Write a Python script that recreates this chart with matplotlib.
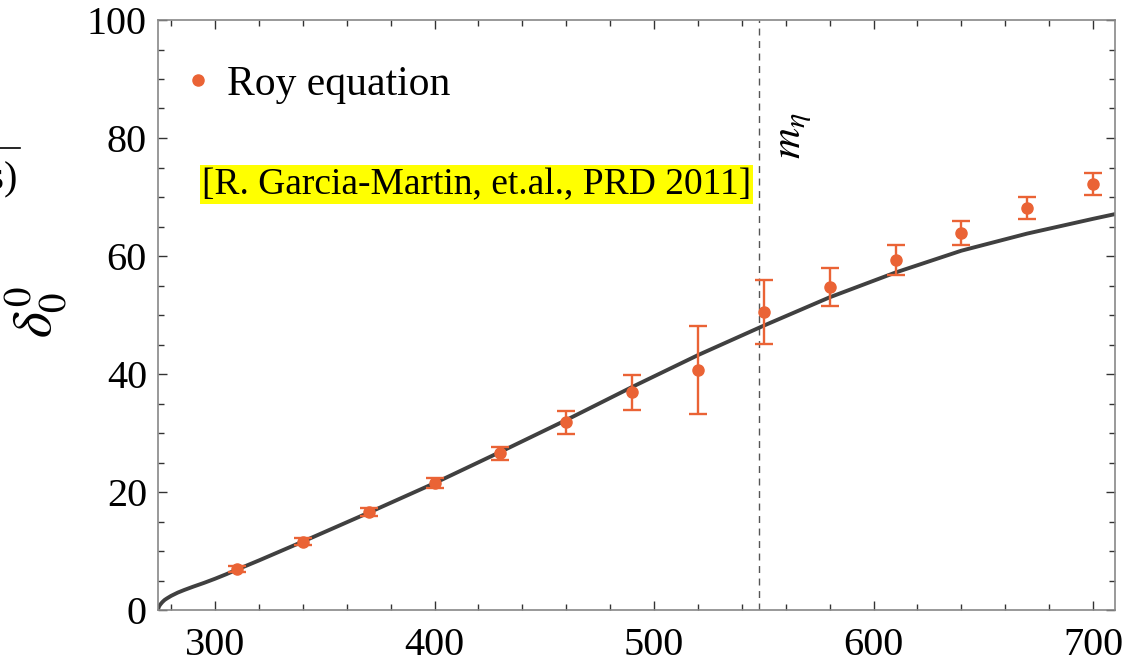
import matplotlib.pyplot as plt
from matplotlib.ticker import MultipleLocator

plt.rcParams['font.family'] = ['Liberation Serif', 'DejaVu Serif']
plt.rcParams['mathtext.fontset'] = 'stix'

# Roy equation phase shift points (MeV, degrees)
roy_E = [310, 340, 370, 400, 430, 460, 490, 520, 550, 580, 610, 640, 670, 700]
roy_delta = [7.0, 11.6, 16.6, 21.5, 26.6, 31.8, 36.9, 40.7, 50.5, 54.7, 59.3, 63.9, 68.1, 72.2]
roy_err = [0.5, 0.6, 0.7, 0.9, 1.1, 1.9, 3.0, 7.5, 5.4, 3.2, 2.5, 2.1, 1.9, 1.8]

# fitted curve
fit_E = [274, 274.3, 274.7, 275.2, 276, 277, 278, 280, 283, 286, 290, 295, 300,
         305, 310, 320, 330, 340, 370, 400, 430, 460, 490, 520, 550, 580, 610,
         640, 670, 700, 710]
fit_delta = [0.0, 0.45, 0.75, 1.0, 1.35, 1.7, 1.95, 2.4, 2.95, 3.4, 3.95, 4.6, 5.3,
             6.05, 6.85, 8.4, 10.0, 11.6, 16.5, 21.5, 26.8, 32.2, 37.8, 43.2, 48.2, 53.0, 57.2,
             60.9, 63.8, 66.3, 67.1]

m_eta = 547.86

orange = '#EA6335'

fig = plt.figure(figsize=(11.25, 6.64), dpi=100)
ax = fig.add_axes([158 / 1125, 54 / 664, (1115 - 158) / 1125, (610 - 20) / 664])

ax.plot(fit_E, fit_delta, color='#404040', lw=2.8, zorder=2)
ax.errorbar(roy_E, roy_delta, yerr=roy_err, fmt='none', ecolor=orange,
            elinewidth=1.7, capsize=6.3, capthick=1.7, zorder=3)
ax.plot(roy_E, roy_delta, 'o', color=orange, ms=8, label='Roy equation', zorder=4)

ax.axvline(m_eta, color='#555555', lw=1, dashes=(5, 4), zorder=1)
ax.text(564, 80.3, r'$m_\eta$', rotation=90, fontsize=31, ha='center', va='center')

ax.text(294, 72.1, '[R. Garcia-Martin, et.al., PRD 2011]', fontsize=27,
        ha='left', va='center',
        bbox=dict(facecolor='#FFFF00', edgecolor='none', pad=1.5))

ax.set_xlim(274, 710)
ax.set_ylim(0, 100)
ax.xaxis.set_major_locator(MultipleLocator(100))
ax.xaxis.set_minor_locator(MultipleLocator(20))
ax.yaxis.set_major_locator(MultipleLocator(20))
ax.yaxis.set_minor_locator(MultipleLocator(5))
ax.tick_params(which='both', direction='in', top=True, right=True,
               color='#333333', labelsize=29)
ax.tick_params(which='major', length=6.5, width=1)
ax.tick_params(which='minor', length=4.3, width=1)
ax.tick_params(axis='x', pad=12.5)
ax.tick_params(axis='y', pad=8)
for s in ax.spines.values():
    s.set_color('#888888')
    s.set_linewidth(1.2)

ax.legend(loc='upper left', bbox_to_anchor=(0.0, 0.97), frameon=False,
          fontsize=30, handlelength=0.6, handletextpad=0.39, borderaxespad=0.26)

# axis label and the clipped fraction from the neighbouring panel
fig.text(36 / 1125, 1 - 312 / 664, r'$\delta_0^0$', rotation=90, fontsize=40,
         ha='center', va='center')
fig.text(18 / 1125, 1 - 180 / 664, '(s)', fontsize=29, ha='right', va='center')
fig.add_artist(plt.Line2D([0, 20 / 1125], [1 - 148 / 664] * 2, color='black', lw=1.2))

fig.savefig('out.png', dpi=100)
